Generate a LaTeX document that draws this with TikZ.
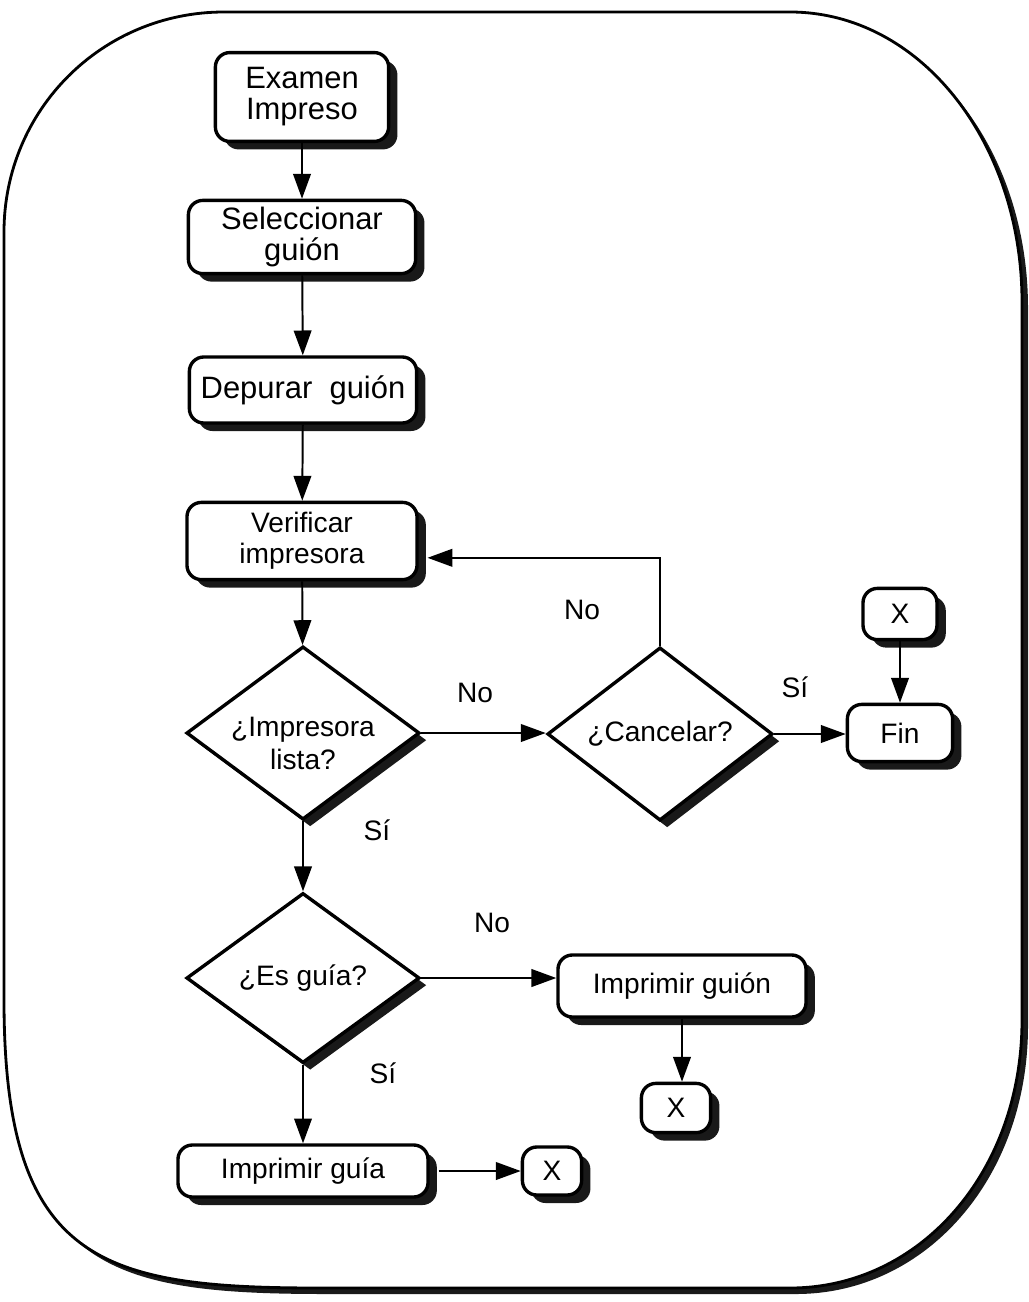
\documentclass[tikz,border=0pt]{standalone}
\usepackage{fontspec}
\setmainfont{Liberation Sans}
\usetikzlibrary{shapes.geometric,shadows,arrows.meta}
\newcommand{\bigtxt}{\fontsize{22}{22}\selectfont}
\newcommand{\smltxt}{\fontsize{20}{22}\selectfont}
\begin{document}
\begin{tikzpicture}[x=0.025cm, y=-0.025cm,
  marco/.style={insert path={(4,232) .. controls (4,110) and (102,12) .. (224,12) -- (790,12)
    .. controls (920,12) and (1022,142) .. (1022,302) -- (1022,1020)
    .. controls (1022,1172) and (920,1288) .. (790,1288) -- (320,1288)
    .. controls (100,1288) and (4,1262) .. (4,1000) -- cycle}},
  box/.style={draw, line width=2.4pt, rounded corners=0.36cm, fill=white, align=center,
    inner sep=2pt, font=\smltxt,
    drop shadow={shadow xshift=0.22cm, shadow yshift=-0.2cm, fill=black!90, opacity=1}},
  dia/.style={draw, diamond, aspect=1.35, line width=2.4pt, fill=white, align=center,
    inner sep=0pt, font=\smltxt,
    drop shadow={shadow xshift=0.18cm, shadow yshift=-0.18cm, fill=black!90, opacity=1}},
  arr/.style={line width=1.4pt, -{Triangle[length=0.62cm, width=0.44cm]}},
  lbl/.style={font=\smltxt}]
\useasboundingbox (0,0) rectangle (1028,1302);
% marco
\fill[black!90, xshift=0.15cm, yshift=-0.15cm, marco];
\fill[white, marco];
\draw[line width=2pt, marco];
% pasos
\node[box, font=\bigtxt, minimum width=4.33cm, minimum height=2.22cm] (a) at (302,97) {Examen\\Impreso};
\node[box, font=\bigtxt, minimum width=5.68cm, minimum height=1.83cm] (b) at (302,237) {Seleccionar\\guión};
\node[box, font=\bigtxt, minimum width=5.68cm, minimum height=1.65cm] (c) at (303,390) {Depurar~ guión};
\node[box, minimum width=5.75cm, minimum height=1.93cm] (d) at (302,541) {Verificar\\impresora};
\node[dia, minimum width=5.83cm, minimum height=4.33cm] (e) at (303,733)
  {\raisebox{-15pt}[18pt][18pt]{\fontsize{20}{23.5}\selectfont\begin{tabular}{@{}c@{}}¿Impresora\\lista?\end{tabular}}};
\node[dia, minimum width=5.63cm, minimum height=4.33cm] (f) at (660,734) {¿Cancelar?};
\node[box, minimum width=2.63cm, minimum height=1.43cm] (g) at (900,733) {Fin};
\node[box, minimum width=1.85cm, minimum height=1.28cm] (h) at (900,614) {X};
\node[dia, minimum width=5.83cm, minimum height=4.25cm] (i) at (303,978) {¿Es guía?};
\node[box, minimum width=6.2cm, minimum height=1.55cm] (j) at (682,986) {Imprimir guión};
\node[box, minimum width=1.73cm, minimum height=1.23cm] (k) at (676,1108) {X};
\node[box, minimum width=6.25cm, minimum height=1.3cm] (l) at (303,1171) {Imprimir guía};
\node[box, minimum width=1.48cm, minimum height=1.2cm] (m) at (552,1171) {X};
% etiquetas
\node[lbl] (n1) at (582,610) {No};
\node[lbl] (n2) at (475,693) {No};
\node[lbl] (s1) at (795,687) {Sí};
\node[lbl] (s2) at (377,830) {Sí};
\node[lbl] (n3) at (492,923) {No};
\node[lbl] (s3) at (383,1073) {Sí};
% flechas
\draw[arr] (a) -- (b);
\draw[arr] (b) -- (c);
\draw[arr] (c) -- (d);
\draw[arr] (d) -- (e);
\draw[arr] (e.east) -- (e.east -| f.west);
\draw[arr] (f.north) |- ([xshift=0.22cm, yshift=-0.42cm]d.east);
\draw[arr] (f.east) -- (f.east -| g.west);
\draw[arr] (h) -- (g);
\draw[arr] (e) -- (i);
\draw[arr] (i.east) -- (i.east -| j.west);
\draw[arr] (j.south) -- (j.south |- k.north);
\draw[arr] (i) -- (l);
\draw[arr] ([xshift=0.22cm]l.east) -- (m);
\end{tikzpicture}
\end{document}
